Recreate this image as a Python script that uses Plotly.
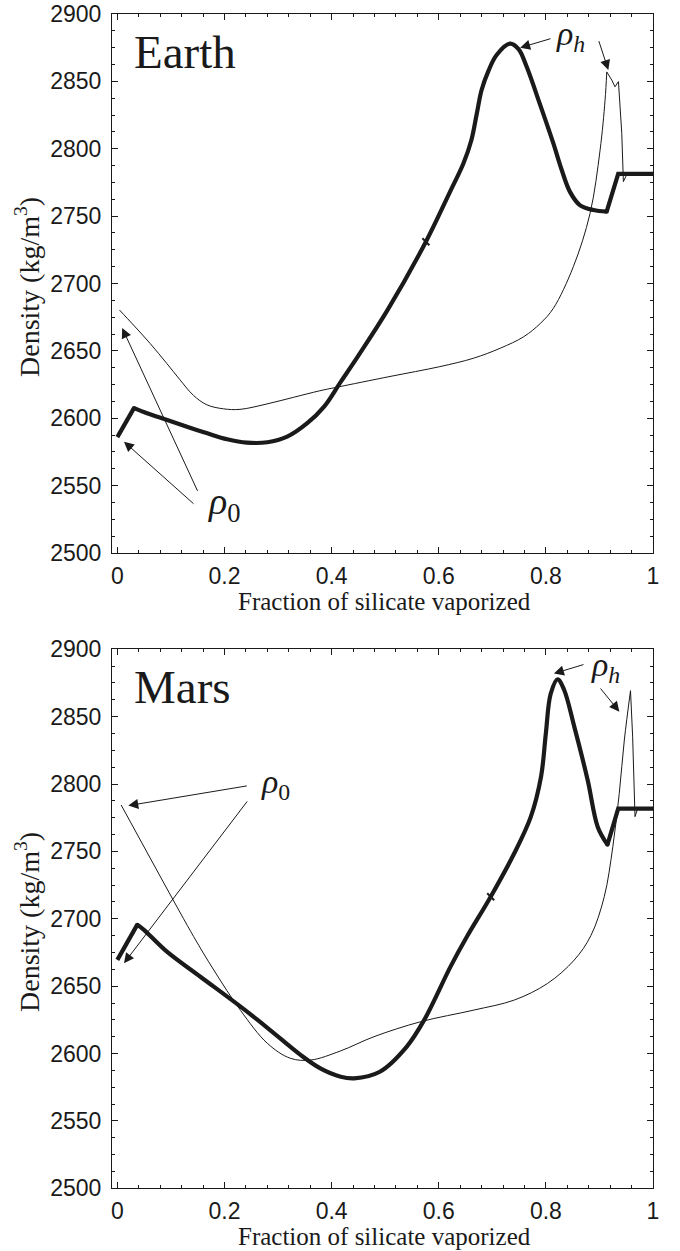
import plotly.graph_objects as go

# ---- Earth: density vs fraction of silicate vaporized ----
earth_h_x = [0.0, 0.031, 0.0555, 0.093, 0.130, 0.168, 0.205, 0.242, 0.280, 0.317,
             0.3545, 0.386, 0.417, 0.450, 0.504, 0.576, 0.621, 0.646, 0.661, 0.671,
             0.680, 0.693, 0.708, 0.733, 0.749, 0.764, 0.789, 0.814, 0.829, 0.845,
             0.864, 0.889, 0.9135, 0.935, 1.0]
earth_h_y = [2586, 2607.5, 2603.7, 2598.7, 2593.7, 2588.8, 2584.4, 2581.9, 2582.2, 2586.3,
             2596.3, 2608.6, 2627, 2646.5, 2680, 2731, 2768, 2789, 2806.5, 2826,
             2843.6, 2858, 2869.6, 2878, 2874, 2861, 2833, 2804, 2785, 2768,
             2758, 2754.5, 2753.3, 2781.4, 2781.4]

earth_0_x = [0.004, 0.030, 0.061, 0.092, 0.117, 0.142, 0.167, 0.198, 0.229, 0.279,
             0.3285, 0.378, 0.4095, 0.509, 0.602, 0.6645, 0.715, 0.7586, 0.790, 0.814,
             0.8513, 0.8825, 0.9012, 0.9105, 0.9137, 0.923, 0.929, 0.9355, 0.9417, 0.9447,
             0.952, 1.0]
earth_0_y = [2680.3, 2669.2, 2655.6, 2640.8, 2628.5, 2617, 2610, 2607, 2606.6, 2610.6,
             2615.5, 2620.4, 2623, 2631, 2638.3, 2644.5, 2652, 2660.5, 2670.5, 2681.6,
             2712.5, 2752, 2799, 2836, 2857, 2851, 2846, 2849.8, 2811.5, 2775.6,
             2781.8, 2781.4]

# ---- Mars ----
mars_h_x = [0.0, 0.037, 0.049, 0.0925, 0.155, 0.230, 0.279, 0.342, 0.379, 0.417,
            0.442, 0.490, 0.540, 0.573, 0.622, 0.653, 0.697, 0.741, 0.772, 0.791,
            0.800, 0.809, 0.822, 0.834, 0.853, 0.878, 0.897, 0.915, 0.935, 1.0]
mars_h_y = [2669.5, 2695.5, 2692, 2675.6, 2657, 2634.8, 2619.5, 2599, 2589, 2582.8,
            2581.6, 2586.5, 2605, 2625, 2664.5, 2687, 2716.4, 2748.6, 2775.8, 2805.5,
            2837.7, 2867, 2877.7, 2870, 2842.6, 2803, 2768, 2755, 2781.7, 2781.7]

mars_0_x = [0.007, 0.0735, 0.1426, 0.180, 0.230, 0.280, 0.323, 0.361, 0.417, 0.479,
            0.566, 0.666, 0.741, 0.803, 0.853, 0.884, 0.909, 0.925, 0.937, 0.9465,
            0.958, 0.962, 0.9664, 0.9715, 1.0]
mars_0_y = [2784.5, 2736.2, 2686.7, 2662, 2632, 2607.6, 2596.5, 2595.2, 2602, 2612.5,
            2623.6, 2632.3, 2639.7, 2652, 2669.4, 2687.5, 2716.4, 2753.5, 2793, 2832.7,
            2869.3, 2835, 2775.8, 2782, 2782]

# indices of sharp corners: the curve is smoothed between them, straight outside
earth_h_corners = [1, 32]
earth_0_corners = [0, 24]
mars_h_corners = [1, 27]
mars_0_corners = [1, 20]

# joints marked on the thick curves
earth_joint = (0.576, 2731)
mars_joint = (0.697, 2716.4)

x_ticks = [0, 0.2, 0.4, 0.6, 0.8, 1]
x_ticklabels = ["0", "0.2", "0.4", "0.6", "0.8", "1"]
y_ticks = [2500, 2550, 2600, 2650, 2700, 2750, 2800, 2850, 2900]

INK = "#1a1a1a"
SERIF = "Liberation Serif"
SANS = "Liberation Sans"

fig = go.Figure()


def add_curve(xs, ys, corners, width, xa, ya):
    a, b = corners
    pieces = [(0, a + 1, "linear"), (a, b + 1, "spline"), (b, len(xs), "linear")]
    for i0, i1, shape in pieces:
        if i1 - i0 < 2:
            continue
        fig.add_trace(go.Scatter(
            x=xs[i0:i1], y=ys[i0:i1], mode="lines", xaxis=xa, yaxis=ya,
            line=dict(color=INK, width=width, shape=shape, smoothing=1.0),
            showlegend=False, hoverinfo="skip"))
    if width > 2:
        # fill the corners where the pieces meet
        fig.add_trace(go.Scatter(
            x=[xs[a], xs[b]], y=[ys[a], ys[b]], mode="markers", xaxis=xa, yaxis=ya,
            marker=dict(color=INK, size=width, line=dict(width=0)),
            showlegend=False, hoverinfo="skip"))


def add_panel(xh, yh, ch, x0, y0, c0, joint, xa, ya):
    add_curve(x0, y0, c0, 1, xa, ya)
    add_curve(xh, yh, ch, 4.2, xa, ya)
    fig.add_trace(go.Scatter(x=[joint[0]], y=[joint[1]], mode="markers",
                             xaxis=xa, yaxis=ya, showlegend=False, hoverinfo="skip",
                             marker=dict(symbol="line-nw", size=7,
                                         line=dict(color=INK, width=2))))


add_panel(earth_h_x, earth_h_y, earth_h_corners,
          earth_0_x, earth_0_y, earth_0_corners, earth_joint, "x", "y")
add_panel(mars_h_x, mars_h_y, mars_h_corners,
          mars_0_x, mars_0_y, mars_0_corners, mars_joint, "x2", "y2")

xdom = [112 / 680, 653 / 680]
ydom_top = [1 - 553 / 1251, 1 - 14 / 1251]
ydom_bot = [1 - 1188.3 / 1251, 1 - 649.3 / 1251]


def xaxis_style(anchor):
    return dict(domain=xdom, range=[-0.01, 1.0], anchor=anchor, automargin=False,
                tickmode="array", tickvals=x_ticks, ticktext=x_ticklabels,
                ticks="inside", ticklen=6, tickwidth=1, tickcolor=INK,
                minor=dict(tick0=0, dtick=0.04, ticks="inside", ticklen=3,
                           tickwidth=1, tickcolor=INK),
                showline=True, linecolor=INK, linewidth=1, mirror="allticks",
                showgrid=False, zeroline=False, ticklabelstandoff=2,
                tickfont=dict(family=SANS, size=23, color=INK))


def yaxis_style(dom, anchor):
    return dict(domain=dom, range=[2500, 2900], anchor=anchor, automargin=False,
                tickmode="array", tickvals=y_ticks,
                ticks="inside", ticklen=6, tickwidth=1, tickcolor=INK,
                minor=dict(tick0=2500, dtick=12.5, ticks="inside", ticklen=3,
                           tickwidth=1, tickcolor=INK),
                showline=True, linecolor=INK, linewidth=1, mirror="allticks",
                showgrid=False, zeroline=False, ticklabelstandoff=5,
                tickfont=dict(family=SANS, size=23, color=INK))


fig.update_layout(
    width=680, height=1251, autosize=False,
    margin=dict(l=0, r=0, t=0, b=0, pad=0, autoexpand=False),
    paper_bgcolor="white", plot_bgcolor="white",
    xaxis=xaxis_style("y"), yaxis=yaxis_style(ydom_top, "x"),
    xaxis2=xaxis_style("y2"), yaxis2=yaxis_style(ydom_bot, "x2"),
)

ann = []

# axis titles
for yc_x, yc_y in [(601, 287), (1236, 922)]:
    ann.append(dict(text="Fraction of silicate vaporized", xref="paper", yref="paper",
                    x=384 / 680, y=1 - yc_x / 1251, xanchor="center", yanchor="middle",
                    showarrow=False, font=dict(family=SERIF, size=25, color=INK)))
    ann.append(dict(text="Density (kg/m<sup>3</sup>)", xref="paper", yref="paper",
                    x=27 / 680, y=1 - yc_y / 1251, xanchor="center", yanchor="middle",
                    textangle=-90, showarrow=False,
                    font=dict(family=SERIF, size=28, color=INK)))

# panel names
ann.append(dict(text="Earth", xref="x", yref="y", x=0.027, y=2871.8,
                xanchor="left", yanchor="middle", showarrow=False,
                font=dict(family=SERIF, size=47, color=INK)))
ann.append(dict(text="Mars", xref="x2", yref="y2", x=0.027, y=2871.7,
                xanchor="left", yanchor="middle", showarrow=False,
                font=dict(family=SERIF, size=47, color=INK)))

RHO0 = "<i>ρ</i><sub>0</sub>"
RHOH = "<i>ρ</i><sub><i>h</i></sub>"


def arrow(xr, yr, head, tail):
    return dict(text="", xref=xr, yref=yr, axref=xr, ayref=yr,
                x=head[0], y=head[1], ax=tail[0], ay=tail[1],
                showarrow=True, arrowhead=2, arrowsize=2, arrowwidth=1,
                arrowcolor=INK, standoff=0, startstandoff=0)


# Earth labels
ann.append(dict(text=RHO0, xref="x", yref="y", x=0.165, y=2536, xanchor="left",
                yanchor="middle", showarrow=False,
                font=dict(family=SERIF, size=38, color=INK)))
ann.append(arrow("x", "y", (0.009, 2667), (0.151, 2545)))
ann.append(arrow("x", "y", (0.0124, 2582.6), (0.145, 2535.6)))
ann.append(dict(text=RHOH, xref="x", yref="y", x=0.816, y=2884, xanchor="left",
                yanchor="middle", showarrow=False,
                font=dict(family=SERIF, size=34, color=INK)))
ann.append(arrow("x", "y", (0.752, 2875), (0.8115, 2882)))
ann.append(arrow("x", "y", (0.9166, 2858.4), (0.898, 2881)))

# Mars labels
ann.append(dict(text=RHO0, xref="x2", yref="y2", x=0.265, y=2800, xanchor="left",
                yanchor="middle", showarrow=False,
                font=dict(family=SERIF, size=34, color=INK)))
ann.append(arrow("x2", "y2", (0.0204, 2784), (0.2445, 2798.8)))
ann.append(arrow("x2", "y2", (0.0124, 2667), (0.2445, 2788.2)))
ann.append(dict(text=RHOH, xref="x2", yref="y2", x=0.881, y=2887, xanchor="left",
                yanchor="middle", showarrow=False,
                font=dict(family=SERIF, size=34, color=INK)))
ann.append(arrow("x2", "y2", (0.815, 2882), (0.873, 2889)))
ann.append(arrow("x2", "y2", (0.9372, 2853.7), (0.8998, 2872)))

fig.update_layout(annotations=ann)

fig.write_html("out.html")
